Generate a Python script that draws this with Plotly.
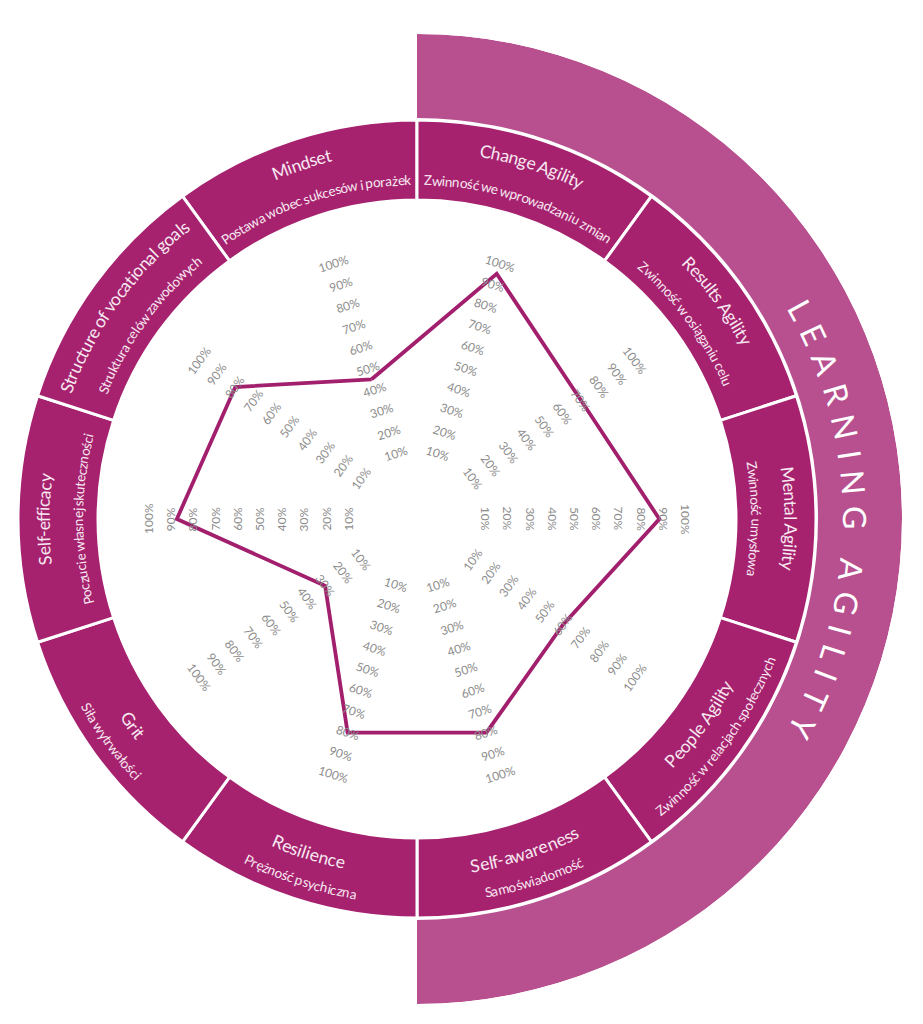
"""
Learning Agility profile wheel
Radar of ten dimensions inside a labelled ring, with a half-ring banner
"""

import math
import plotly.graph_objects as go

# ==============================================================================
# DATA
# ==============================================================================

dimensions = ["Mindset", "Change Agility", "Results Agility", "Mental Agility",
              "People Agility", "Self-awareness", "Resilience", "Grit",
              "Self-efficacy", "Structure of vocational goals"]

dimensions_pl = ["Postawa wobec sukcesów i porażek", "Zwinność we wprowadzaniu zmian",
                 "Zwinność w osiąganiu celu", "Zwinność umysłowa",
                 "Zwinność w relacjach społecznych", "Samoświadomość",
                 "Prężność psychiczna", "Siła wytrwałości",
                 "Poczucie własnej skuteczności", "Struktura celów zawodowych"]

scores = [45, 95, 70, 88, 60, 80, 80, 30, 87, 80]

tick_values = [10, 20, 30, 40, 50, 60, 70, 80, 90, 100]
tick_labels = ["10%", "20%", "30%", "40%", "50%", "60%", "70%", "80%", "90%", "100%"]

banner_text = "LEARNING AGILITY"

# ==============================================================================
# GEOMETRY / STYLE (pixels)
# ==============================================================================

PAGE_PAD = 8               # default body margin of the html page
W, H = 923 - 2 * PAGE_PAD, 1024 - 2 * PAGE_PAD
CX, CY = 417 - PAGE_PAD, 519 - PAGE_PAD   # wheel centre inside the figure

R_HOLE, R_FULL = 47, 269   # radar: 0% and 100%
RING_IN, RING_OUT = 319, 399
ARC_IN, ARC_OUT = 401, 485
RING_BOX = 405

RING_COLOR = '#A6226F'
ARC_COLOR = '#B8508F'
LINE_COLOR = '#A21F6D'
TEXT_LIGHT = '#F8E8F1'
TICK_COLOR = '#8C8C8C'
FONT = 'Lato'

START_ANGLE = 108
step = 360 / len(dimensions)


def norm(a):
    a = a % 360
    if a > 180:
        a -= 360
    return a


angles = [norm(START_ANGLE - i * step) for i in range(len(dimensions))]

# rough Lato advance widths (em)
CHAR_W = {
    ' ': 0.19, '-': 0.34, 'i': 0.24, 'l': 0.24, 'j': 0.24, 'ł': 0.26,
    'f': 0.31, 't': 0.34, 'r': 0.36, 's': 0.41, 'ś': 0.41, 'z': 0.43, 'ż': 0.43,
    'c': 0.46, 'ć': 0.46, 'k': 0.48, 'v': 0.48, 'y': 0.48, 'x': 0.48,
    'a': 0.49, 'ą': 0.49, 'g': 0.49, 'e': 0.52, 'ę': 0.52,
    'm': 0.83, 'w': 0.74,
    'A': 0.67, 'C': 0.66, 'E': 0.54, 'G': 0.71, 'I': 0.27, 'L': 0.47,
    'M': 0.89, 'N': 0.75, 'P': 0.58, 'R': 0.61, 'S': 0.51, 'T': 0.56,
    'Y': 0.61, 'Z': 0.58,
}


def char_w(ch):
    return CHAR_W.get(ch, 0.55)


def to_paper(r, phi):
    x = (CX + r * math.cos(math.radians(phi))) / W
    y = (H - CY + r * math.sin(math.radians(phi))) / H
    return x, y


annotations = []


def arc_text(text, phi_c, r, size, color, flipped, tracking=0.0):
    widths = [char_w(ch) * size for ch in text]
    total = sum(widths) + tracking * (len(text) - 1)
    s = -total / 2
    for ch, w in zip(text, widths):
        sc = s + w / 2
        s += w + tracking
        if ch == ' ':
            continue
        if flipped:
            phi = phi_c + math.degrees(sc / r)
            rot = -90 - phi
        else:
            phi = phi_c - math.degrees(sc / r)
            rot = 90 - phi
        x, y = to_paper(r, phi)
        annotations.append(dict(
            x=x, y=y, xref='paper', yref='paper', text=ch, showarrow=False,
            xanchor='center', yanchor='middle', textangle=rot,
            font=dict(family=FONT, size=size, color=color)))


# ==============================================================================
# FIGURE
# ==============================================================================

fig = go.Figure()

# Outer half ring (banner)
fig.add_trace(go.Barpolar(
    theta=[0], width=[180], base=[ARC_IN], r=[ARC_OUT - ARC_IN],
    marker=dict(color=ARC_COLOR, line=dict(width=0)),
    subplot='polar3', hoverinfo='skip'
))

# Dimension ring
fig.add_trace(go.Barpolar(
    theta=angles, width=[step] * len(dimensions),
    base=[RING_IN] * len(dimensions), r=[RING_OUT - RING_IN] * len(dimensions),
    marker=dict(color=RING_COLOR, line=dict(color='white', width=3)),
    subplot='polar2', text=dimensions, hoverinfo='text'
))

# Radar line
fig.add_trace(go.Scatterpolar(
    theta=angles + [angles[0]], r=scores + [scores[0]],
    mode='lines', line=dict(color=LINE_COLOR, width=3.8),
    subplot='polar', hoverinfo='skip'
))

# Tick labels along every axis
for phi in angles:
    rot = 90 - phi if phi >= 0 else -90 - phi
    for v, lab in zip(tick_values, tick_labels):
        r = R_HOLE + v / 100 * (R_FULL - R_HOLE)
        x, y = to_paper(r, phi)
        annotations.append(dict(
            x=x, y=y, xref='paper', yref='paper', text=lab, showarrow=False,
            xanchor='center', yanchor='middle', textangle=rot,
            font=dict(family=FONT, size=12, color=TICK_COLOR)))

# Ring captions
for name, name_pl, phi in zip(dimensions, dimensions_pl, angles):
    if phi >= 0:
        arc_text(name, phi, 374, 17.5, TEXT_LIGHT, False)
        arc_text(name_pl, phi, 339, 13.5, TEXT_LIGHT, False)
    else:
        arc_text(name, phi, 351, 17.5, TEXT_LIGHT, True)
        arc_text(name_pl, phi, 380, 13.5, TEXT_LIGHT, True)

# Banner text
arc_text(banner_text, 0, 438, 32, 'white', False, tracking=12)

fig.update_layout(
    width=W, height=H,
    margin=dict(l=0, r=0, t=0, b=0),
    paper_bgcolor='white',
    showlegend=False,
    polar=dict(
        domain=dict(x=[(CX - R_FULL) / W, (CX + R_FULL) / W],
                    y=[(H - CY - R_FULL) / H, (H - CY + R_FULL) / H]),
        hole=R_HOLE / R_FULL,
        bgcolor='rgba(0,0,0,0)',
        radialaxis=dict(range=[0, 100], visible=False),
        angularaxis=dict(rotation=0, direction='counterclockwise', visible=False),
    ),
    polar2=dict(
        domain=dict(x=[(CX - RING_BOX) / W, (CX + RING_BOX) / W],
                    y=[(H - CY - RING_BOX) / H, (H - CY + RING_BOX) / H]),
        bgcolor='rgba(0,0,0,0)',
        radialaxis=dict(range=[0, RING_BOX], visible=False),
        angularaxis=dict(rotation=0, direction='counterclockwise', visible=False),
    ),
    polar3=dict(
        domain=dict(x=[CX / W, (CX + ARC_OUT) / W],
                    y=[(H - CY - ARC_OUT) / H, (H - CY + ARC_OUT) / H]),
        sector=[-90, 90],
        bgcolor='rgba(0,0,0,0)',
        radialaxis=dict(range=[0, ARC_OUT], visible=False),
        angularaxis=dict(rotation=0, direction='counterclockwise', visible=False),
    ),
    annotations=annotations,
)

fig.write_html("out.html")
print("[OK] wheel written to out.html")
